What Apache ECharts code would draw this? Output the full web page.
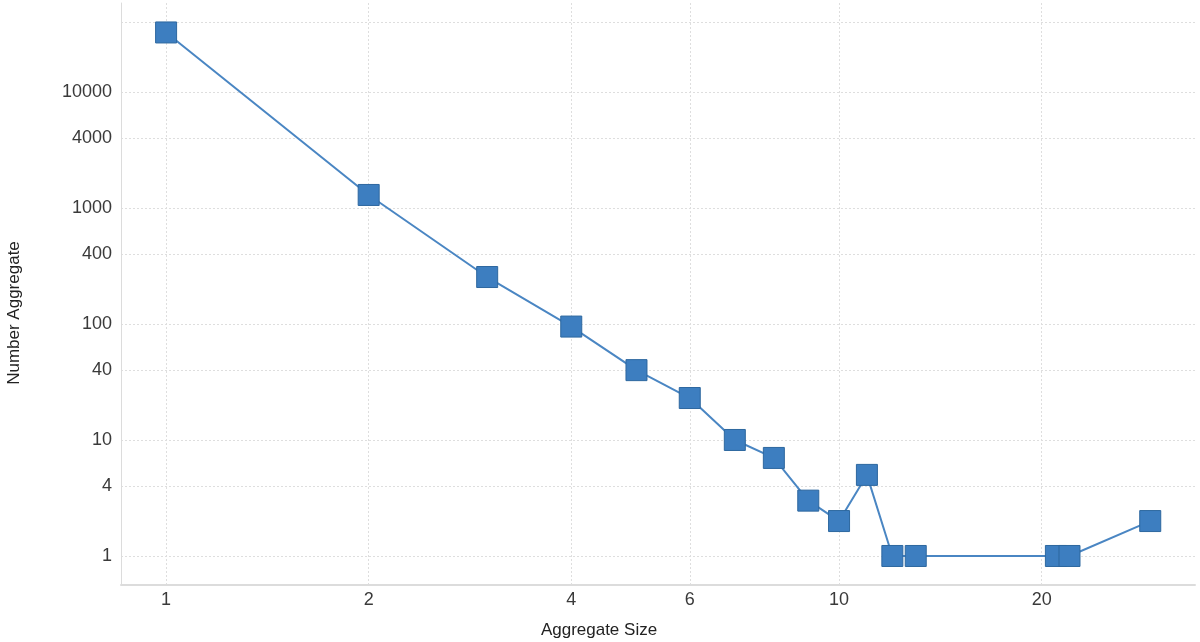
<!DOCTYPE html>
<html>
<head>
<meta charset="utf-8">
<script src="https://cdn.jsdelivr.net/npm/echarts@6/dist/echarts.min.js"></script>
<style>html,body{margin:0;padding:0;background:#fff}#c{width:1200px;height:642px}</style>
</head>
<body>
<div id="c"></div>
<script>
// Data (raw values)
const aggregateSize = [1, 2, 3, 4, 5, 6, 7, 8, 9, 10, 11, 12, 13, 21, 22, 29];
const numberAggregate = [32600, 1295, 254, 95, 40, 23, 10, 7, 3, 2, 5, 1, 1, 1, 1, 2];
const xTickValues = [1, 2, 4, 6, 10, 20];
const yTickValues = [1, 4, 10, 40, 100, 400, 1000, 4000, 10000, 40000];
const yLabelValues = [1, 4, 10, 40, 100, 400, 1000, 4000, 10000];
const xName = 'Aggregate Size';
const yName = 'Number Aggregate';

const lg = v => Math.log10(v);
const fmt = v => String(Math.round(Math.pow(10, v)));
const FONT = '"Liberation Sans", Arial, sans-serif';

const chart = echarts.init(document.getElementById('c'), null, {renderer: 'canvas'});
chart.setOption({
  animation: false,
  backgroundColor: '#ffffff',
  grid: {left: 121, right: 5, top: 3, bottom: 57, containLabel: false, outerBoundsMode: 'none'},
  xAxis: {
    type: 'value',
    min: lg(0.857), max: lg(33.8),
    name: xName, nameLocation: 'middle', nameGap: 37,
    nameTextStyle: {fontFamily: FONT, fontSize: 17, color: '#222', padding: [0, 118, 0, 0]},
    axisLine: {show: true, onZero: false, lineStyle: {color: '#dcdcdc', width: 2}},
    axisTick: {show: false, customValues: xTickValues.map(lg)},
    axisLabel: {customValues: xTickValues.map(lg), formatter: fmt, fontFamily: FONT, fontSize: 18, color: '#3a3a3a', margin: 6},
    splitLine: {show: true, lineStyle: {color: '#dedede', type: [2, 2], width: 1}}
  },
  yAxis: {
    type: 'value',
    min: lg(0.562), max: lg(58500),
    name: yName, nameLocation: 'middle', nameGap: 98,
    nameTextStyle: {fontFamily: FONT, fontSize: 17, color: '#222', padding: [0, 38, 0, 0]},
    axisLine: {show: true, onZero: false, lineStyle: {color: '#dcdcdc', width: 1}},
    axisTick: {show: false, customValues: yTickValues.map(lg)},
    axisLabel: {customValues: yLabelValues.map(lg), formatter: fmt, fontFamily: FONT, fontSize: 18, color: '#3a3a3a', margin: 9},
    splitLine: {show: true, lineStyle: {color: '#dedede', type: [2, 2], width: 1}}
  },
  series: [{
    type: 'line',
    data: aggregateSize.map((x, i) => [lg(x), lg(numberAggregate[i])]),
    symbol: 'rect',
    symbolSize: 21,
    lineStyle: {color: '#4a86c3', width: 2},
    itemStyle: {color: '#3d7ec0', borderColor: '#2d679f', borderWidth: 1},
    z: 3
  }]
});
</script>
</body>
</html>
